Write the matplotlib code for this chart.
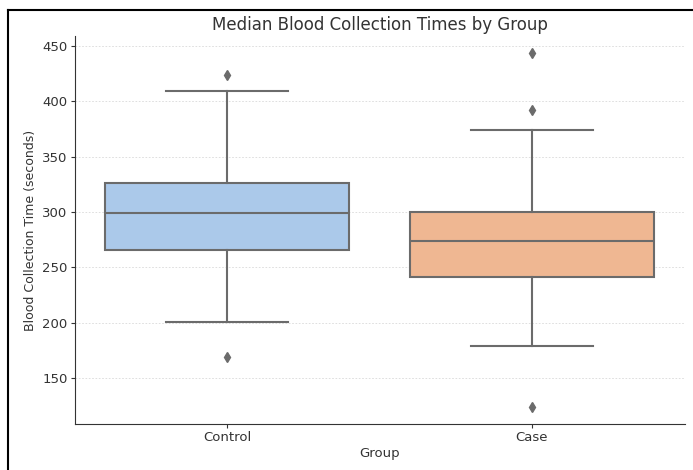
import matplotlib
matplotlib.use('Agg')
import matplotlib.pyplot as plt
from matplotlib.lines import Line2D
import seaborn as sns

# summary stats
groups = ['Control', 'Case']
q1 = [266, 241]
medians = [299, 274]
q3 = [326, 300]
whis_lo = [201, 179]
whis_hi = [409, 374]
fliers = [[424, 169], [444, 392, 124]]

TEXT = '#333333'
LINE = '#6b6b6b'

def main():
  pal = sns.color_palette('pastel')
  colors = [sns.desaturate(pal[i], 0.75) for i in range(len(groups))]

  fig = plt.figure(figsize=(6.93, 4.70), dpi=100)
  ax = fig.add_axes([74.5 / 693, 46 / 470, 610 / 693, 388 / 470])

  stats = []
  for i, g in enumerate(groups):
    stats.append(dict(label=g, q1=q1[i], med=medians[i], q3=q3[i],
                      whislo=whis_lo[i], whishi=whis_hi[i], fliers=fliers[i]))

  bp = ax.bxp(stats, positions=range(len(groups)), widths=0.8, patch_artist=True,
              boxprops=dict(edgecolor=LINE, linewidth=1.5),
              medianprops=dict(color=LINE, linewidth=1.5),
              whiskerprops=dict(color=LINE, linewidth=1.5),
              capprops=dict(color=LINE, linewidth=1.5),
              flierprops=dict(marker='d', markerfacecolor=LINE, markeredgecolor=LINE,
                              markersize=5))
  for patch, c in zip(bp['boxes'], colors):
    patch.set_facecolor(c)
  for cap in bp['caps']:
    x = cap.get_xdata()
    mid = (x[0] + x[1]) / 2
    cap.set_xdata([mid - 0.2, mid + 0.2])

  ax.set_xlim(-0.5, 1.5)
  ax.set_ylim(108.5, 459)
  ax.set_yticks([150, 200, 250, 300, 350, 400, 450])
  ax.set_xticks(range(len(groups)))
  ax.set_xticklabels(groups)
  ax.yaxis.grid(True, linestyle=(0, (2, 2)), linewidth=0.6, color='#d9d9d9')
  ax.set_axisbelow(True)

  for s in ['top', 'right']:
    ax.spines[s].set_visible(False)
  for s in ['left', 'bottom']:
    ax.spines[s].set_color(TEXT)
  ax.tick_params(colors=TEXT, labelsize=9.5, labelcolor=TEXT, length=3, pad=2)

  ax.set_title('Median Blood Collection Times by Group', fontsize=12, color=TEXT, pad=4)
  ax.set_xlabel('Group', fontsize=9.5, color=TEXT, labelpad=2)
  ax.set_ylabel('Blood Collection Time (seconds)', fontsize=9, color=TEXT, labelpad=4)

  # screenshot frame on the top and left
  fig.add_artist(Line2D([8 / 693, 1], [1 - 10 / 470, 1 - 10 / 470], color='black', linewidth=1.5))
  fig.add_artist(Line2D([8 / 693, 8 / 693], [0, 1 - 10 / 470], color='black', linewidth=1.5))

  fig.savefig('out.png', dpi=100)

if __name__ == "__main__":
  main()
